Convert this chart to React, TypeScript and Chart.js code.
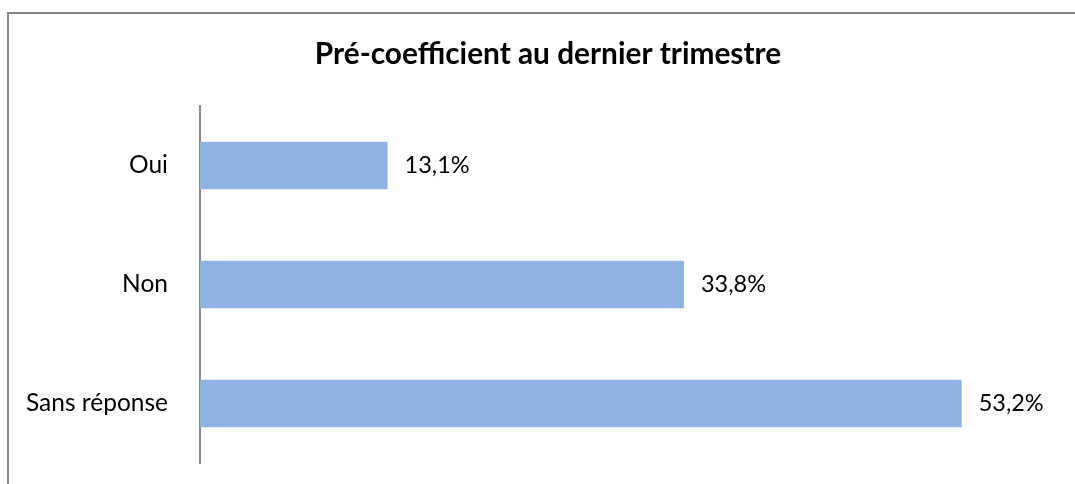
import React, { useEffect, useRef } from "react";
import { Chart, registerables } from "chart.js";

Chart.register(...registerables);

const chartTitle = "Pré-coefficient au dernier trimestre";
const categories = ["Oui", "Non", "Sans réponse"];
const percentages = [13.1, 33.8, 53.2];
const axisMax = 60;

const FONT = "Lato, 'Open Sans', sans-serif";

const titlePlugin = {
  id: "customTitle",
  afterDraw(chart: any) {
    const ctx = chart.ctx;
    ctx.save();
    ctx.font = `bold 29.8px ${FONT}`;
    ctx.fillStyle = "#000";
    ctx.textAlign = "center";
    ctx.textBaseline = "middle";
    ctx.fillText(chartTitle, 548, 54);
    ctx.restore();
  },
};

const labelPlugin = {
  id: "valueLabels",
  afterDatasetsDraw(chart: any) {
    const ctx = chart.ctx;
    const meta = chart.getDatasetMeta(0);
    const data = chart.data.datasets[0].data as number[];
    ctx.save();
    ctx.font = `23.5px ${FONT}`;
    ctx.fillStyle = "#000";
    ctx.textAlign = "left";
    ctx.textBaseline = "middle";
    meta.data.forEach((bar: any, i: number) => {
      const txt = data[i].toFixed(1).replace(".", ",") + "%";
      ctx.fillText(txt, bar.x + 17, bar.y);
    });
    ctx.restore();
  },
};

export default function App() {
  const ref = useRef<HTMLCanvasElement>(null);
  useEffect(() => {
    if (!ref.current) return;
    const chart = new Chart(ref.current, {
      type: "bar",
      data: {
        labels: categories,
        datasets: [
          {
            data: percentages,
            backgroundColor: "#8EB3E2",
            borderWidth: 0,
            categoryPercentage: 1,
            barPercentage: 0.4,
          },
        ],
      },
      options: {
        indexAxis: "y",
        animation: false,
        responsive: true,
        maintainAspectRatio: false,
        layout: { autoPadding: false, padding: { left: 0, top: 106, right: 16, bottom: 21 } },
        plugins: {
          legend: { display: false },
          title: { display: false },
          tooltip: { enabled: false },
        },
        scales: {
          x: {
            min: 0,
            max: axisMax,
            display: false,
          },
          y: {
            afterFit: (s: any) => {
              s.width = 200;
              s.paddingTop = 0;
              s.paddingBottom = 0;
            },
            grid: { display: false, drawTicks: false },
            border: { display: true, color: "#868686", width: 2 },
            ticks: {
              padding: 32,
              color: "#000",
              font: { family: FONT, size: 24.5 },
            },
          },
        },
      },
      plugins: [titlePlugin, labelPlugin],
    });
    return () => chart.destroy();
  }, []);

  return (
    <div
      style={{
        position: "fixed",
        left: 0,
        top: 0,
        width: 1075,
        height: 484,
        overflow: "hidden",
        background: "#fff",
      }}
    >
      <div
        style={{
          position: "absolute",
          left: 7,
          top: 12,
          width: 1200,
          height: 600,
          borderLeft: "2px solid #868686",
          borderTop: "2px solid #868686",
        }}
      />
      <div style={{ position: "absolute", left: 0, top: 0, width: 1075, height: 484 }}>
        <canvas ref={ref} />
      </div>
    </div>
  );
}
